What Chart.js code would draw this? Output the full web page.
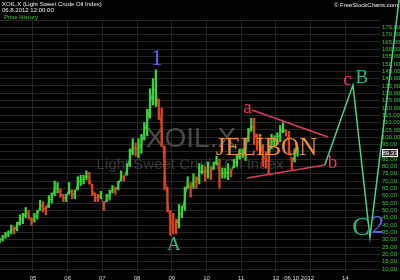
<!DOCTYPE html>
<html><head><meta charset="utf-8">
<style>html,body{margin:0;padding:0;background:#000;overflow:hidden}#wrap{width:400px;height:280px;position:relative}</style>
<script src="https://cdn.jsdelivr.net/npm/chart.js@4/dist/chart.umd.min.js"></script>
</head><body><div id="wrap"><canvas id="c" width="400" height="280"></canvas></div>
<script>
// ---- data ----
const startYear = 2004; // monthly bars start January 2004
const monthLows = [
  28,29,31,32,34,34,36,40,41,45,44,40,
  42,44,50,49,47,52,55,60,62,59,56,56,
  61,58,58,64,67,68,71,68,60,56,56,58,
  50,56,57,62,61,64,70,70,74,80,88,87,
  86,89,98,101,113,122,121,112,94,64,49,33,
  34,34,38,45,50,65,59,65,65,68,75,70,
  72,71,78,81,65,72,72,71,73,79,80,85,
  86,84,97,104,95,91,93,80,79,75,92,94,
  96,97,103,101,88,78,83,87
];
const monthHighs = [
  31,33,35,36,40,39,42,47,48,52,50,45,
  48,50,57,56,53,60,62,70,69,65,61,61,
  69,64,64,73,74,74,77,76,68,62,61,63,
  56,61,64,67,66,70,77,74,82,92,99,96,
  99,102,110,119,133,140,146,126,120,94,66,50,
  48,44,54,53,66,73,69,75,73,82,81,80,
  83,80,83,87,85,79,79,82,78,85,88,92,
  92,99,106,113,113,102,100,95,90,93,102,101,
  103,108,110,105,104,86,92,93
];
const yearTicks = [2005,2006,2007,2008,2009,2010,2011,2012,2013,2014];
const yearLabels = ['05','06','07','08','09','10','11','12','','14'];
const priceTicks = [10,15,20,25,30,35,40,45,50,55,60,65,70,75,80,85,90,95,100,105,110,115,120,125,130,135,140,145,150,155,160,165,170,175,180];
const triUpperX = [2011.31, 2013.50];
const triUpperY = [118.6, 100.1];
const triLowerX = [2011.17, 2013.41];
const triLowerY = [72.1, 81.0];
const waveX = [2013.41, 2014.22, 2014.71, 2015.55];
const waveY = [81.0, 135.6, 31.8, 193.7];
const lastPrice = 89.33;
const cursorDate = '06.10.2012';
const cursorYear = 2012.67;

// ---- build ----
const monthX = monthLows.map((_, i) => startYear + (i + 0.5) / 12);
const barData = monthLows.map((lo, i) => ({x: monthX[i], y: [lo, monthHighs[i]]}));
const UP = '#3cd23c', DOWN = '#e0441c';
const mids = monthLows.map((lo, i) => (lo + monthHighs[i]) / 2);
const barColors = mids.map((m, i) => (i === 0 || m >= mids[i-1]) ? UP : DOWN);
const midData = mids.map((m, i) => ({x: monthX[i], y: m}));
const pts = (xs, ys) => xs.map((x, i) => ({x, y: ys[i]}));

const BLUE = '#5a64e8', GREEN = '#2eb87a', RED = '#e8385a';
const waveLabels = [
  {t:'1', x:2008.57, y:149.3, c:BLUE, s:24},
  {t:'A', x:2009.06, y:23.0, c:GREEN, s:19},
  {t:'a', x:2011.18, y:116.5, c:RED, s:19},
  {t:'b', x:2013.63, y:79.0, c:RED, s:19},
  {t:'c', x:2014.06, y:135.6, c:RED, s:19},
  {t:'B', x:2014.48, y:137.0, c:GREEN, s:19},
  {t:'C', x:2014.45, y:33.2, c:GREEN, s:26},
  {t:'2', x:2014.94, y:34.6, c:BLUE, s:25}
];

const deco = {
  id: 'deco',
  beforeDraw(chart) {
    const ctx = chart.ctx;
    ctx.save(); ctx.fillStyle = '#000'; ctx.fillRect(0, 0, chart.width, chart.height); ctx.restore();
  },
  beforeDatasetsDraw(chart) {
    const ctx = chart.ctx;
    ctx.save();
    ctx.textAlign = 'center'; ctx.textBaseline = 'alphabetic';
    ctx.fillStyle = '#4a4a4a';
    ctx.font = '28px "Liberation Sans", Arial, sans-serif';
    ctx.fillText('XOIL.X', 191, 147);
    ctx.fillStyle = '#3a3a3a';
    ctx.font = '15px "Liberation Sans", Arial, sans-serif';
    ctx.fillText('Light Sweet Crude Oil Index', 190, 169);
    ctx.restore();
  },
  afterDatasetsDraw(chart) {
    const ctx = chart.ctx, xs = chart.scales.x, ys = chart.scales.y;
    ctx.save();
    ctx.textAlign = 'center'; ctx.textBaseline = 'alphabetic';
    ctx.fillStyle = '#ee8a3a';
    ctx.font = '25px "Liberation Serif", "DejaVu Serif", serif';
    ctx.fillText('JELİBON', 266.5, 155);
    waveLabels.forEach(l => {
      ctx.fillStyle = l.c;
      ctx.font = l.s + 'px "Liberation Serif", "DejaVu Serif", serif';
      ctx.fillText(l.t, xs.getPixelForValue(l.x), ys.getPixelForValue(l.y));
    });
    ctx.textAlign = 'left'; ctx.textBaseline = 'middle';
    ctx.font = '6px "Liberation Sans", Arial, sans-serif';
    ctx.fillStyle = '#f0f0f0';
    ctx.fillText('XOIL.X (Light Sweet Crude Oil Index)', 2, 4.5);
    ctx.fillText('06.8.2012 12:00:00', 2, 10.5);
    ctx.fillStyle = '#33cc33';
    ctx.fillText('Price History', 4, 17);
    ctx.textAlign = 'right'; ctx.fillStyle = '#f0f0f0';
    ctx.fillText('© FreeStockCharts.com', 398, 5.5);
    const py = Math.round(ys.getPixelForValue(lastPrice));
    ctx.fillStyle = '#333';
    ctx.fillRect(382.5, py - 3.5, 15, 7);
    ctx.strokeStyle = '#fff'; ctx.lineWidth = 1;
    ctx.strokeRect(382.5, py - 3.5, 15, 7);
    ctx.fillStyle = '#fff'; ctx.textAlign = 'center';
    ctx.fillText(lastPrice.toFixed(2).replace('.', ','), 390, py + 0.5);
    ctx.fillStyle = '#dddddd';
    ctx.fillText(cursorDate, xs.getPixelForValue(cursorYear), 278);
    ctx.restore();
  }
};

new Chart(document.getElementById('c'), {
  type: 'bar',
  data: {
    datasets: [
      {type: 'line', data: pts(triUpperX, triUpperY), borderColor: '#e23a55', borderWidth: 1.5, pointRadius: 0, clip: false, order: 1},
      {type: 'line', data: pts(triLowerX, triLowerY), borderColor: '#e23a55', borderWidth: 1.5, pointRadius: 0, clip: false, order: 1},
      {type: 'line', data: pts(waveX, waveY), borderColor: '#45d585', borderWidth: 1.5, pointRadius: 0, clip: false, order: 1},
      {type: 'line', data: midData, borderWidth: 1, pointRadius: 0, order: 3,
        segment: {borderColor: c => c.p1.parsed.y >= c.p0.parsed.y ? UP : DOWN}},
      {type: 'bar', data: barData, backgroundColor: barColors, borderWidth: 0, barThickness: 1.6, grouped: false, order: 2}
    ]
  },
  options: {
    responsive: false, animation: false, devicePixelRatio: 1,
    layout: {padding: {top: 20, left: 0, right: 0, bottom: 0}, autoPadding: false},
    plugins: {legend: {display: false}, tooltip: {enabled: false}},
    scales: {
      x: {
        type: 'linear', min: 2004.05, max: 2015.0, offset: false,
        afterBuildTicks: s => { s.ticks = yearTicks.map(v => ({value: v})); },
        afterFit: s => { s.height = 8; s.paddingLeft = 0; s.paddingRight = 0; },
        grid: {color: '#262626', lineWidth: 1, drawTicks: false, offset: false},
        border: {display: false},
        ticks: {
          padding: 3, color: '#d0d0d0', autoSkip: false, maxRotation: 0,
          font: {size: 6, family: '"Liberation Sans", Arial, sans-serif'},
          callback: v => { const i = yearTicks.indexOf(v); return i >= 0 ? yearLabels[i] : ''; }
        }
      },
      y: {
        position: 'right', min: 7.952, max: 180,
        afterBuildTicks: s => { s.ticks = priceTicks.map(v => ({value: v})); },
        afterFit: s => { s.width = 20; },
        grid: {color: '#262626', lineWidth: 1, drawTicks: false},
        border: {display: false},
        ticks: {
          padding: 2, color: '#33cc33', autoSkip: false,
          font: {size: 6, family: '"Liberation Sans", Arial, sans-serif'},
          callback: v => v <= 175 ? v.toFixed(2).replace('.', ',') : ''
        }
      }
    }
  },
  plugins: [deco]
});
</script>
</body></html>
